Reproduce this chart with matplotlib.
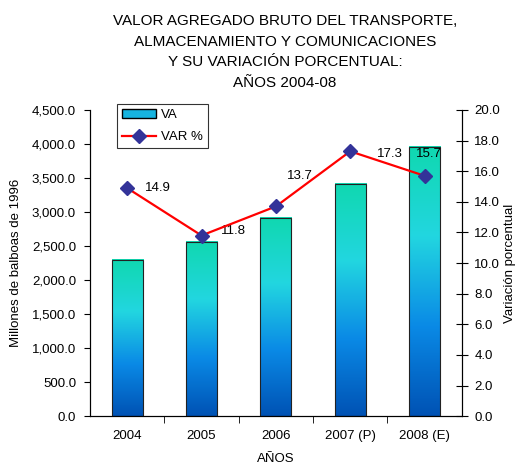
import matplotlib.pyplot as plt
from matplotlib.colors import LinearSegmentedColormap
from matplotlib.lines import Line2D
from matplotlib.patches import Patch
import numpy as np

plt.rcParams["font.family"] = ["Liberation Sans", "DejaVu Sans"]

years = ["2004", "2005", "2006", "2007 (P)", "2008 (E)"]
va = [2300.0, 2560.0, 2915.0, 3415.0, 3960.0]
var_pct = [14.9, 11.8, 13.7, 17.3, 15.7]

# gradiente de las barras: azul abajo, cian al medio, verde arriba
cmap = LinearSegmentedColormap.from_list(
    "va", ["#0052B4", "#0A8AE6", "#22D6E0", "#10D8B0"]
)

fig = plt.figure(figsize=(5.2, 4.66), dpi=100)
ax = fig.add_axes([0.173, 0.107, 0.715, 0.657])
ax2 = ax.twinx()

x = np.arange(len(years))
w = 0.42
grad = np.linspace(0, 1, 256).reshape(-1, 1)
for xi, v in zip(x, va):
    ax.imshow(grad, extent=[xi - w / 2, xi + w / 2, 0, v], origin="lower",
              aspect="auto", cmap=cmap, zorder=2)
ax.bar(x, va, width=w, fill=False, edgecolor="#222222", linewidth=0.8, zorder=3)

ax.set_xlim(-0.5, len(years) - 0.5)
ax.set_ylim(0, 4500)
ax.set_yticks(np.arange(0, 4501, 500))
ax.set_yticklabels([f"{v:,.1f}" for v in np.arange(0, 4501, 500)])
ax.set_xticks(x)
ax.set_xticklabels(years)
ax.set_xticks(np.arange(0.5, len(years) - 1, 1), minor=True)
ax.tick_params(axis="x", which="major", length=0, pad=10, labelsize=9.5)
ax.tick_params(axis="x", which="minor", length=5, direction="out")
ax.tick_params(axis="y", labelsize=9.5, direction="out", length=4, pad=6)
ax.set_ylabel("Millones de balboas de 1996", fontsize=9.5, labelpad=7)
ax.set_xlabel("AÑOS", fontsize=9.5, labelpad=8)

ax2.plot(x, var_pct, color="red", linewidth=1.6, marker="D", markersize=7.5,
         markerfacecolor="#333399", markeredgecolor="#333399", zorder=5)
ax2.set_ylim(0, 20)
ax2.set_yticks(np.arange(0, 20.1, 2))
ax2.set_yticklabels([f"{v:.1f}" for v in np.arange(0, 20.1, 2)])
ax2.tick_params(axis="y", labelsize=9.5, direction="inout", length=8, pad=5)
ax2.set_ylabel("Variación porcentual", fontsize=9.5, labelpad=3)

offsets = [(13, 0), (14, 3), (8, 22), (19, -2), (-6, 16)]
for xi, v, off in zip(x, var_pct, offsets):
    ax2.annotate(f"{v:.1f}", (xi, v), xytext=off, textcoords="offset points",
                 fontsize=9.5, va="center", ha="left")

for a in (ax, ax2):
    a.spines["top"].set_visible(False)

handles = [
    Patch(facecolor="#16B4E0", edgecolor="black", label="VA"),
    Line2D([0], [0], color="red", linewidth=1.6, marker="D", markersize=7,
           markerfacecolor="#333399", markeredgecolor="#333399", label="VAR %"),
]
leg = ax2.legend(handles=handles, loc="upper left", bbox_to_anchor=(0.055, 1.04),
                 fontsize=9.5, frameon=True, fancybox=False, edgecolor="black",
                 borderpad=0.35, handlelength=2.6, labelspacing=0.75,
                 handletextpad=0.4)
leg.get_frame().set_linewidth(0.8)

fig.text(0.548, 0.97, "VALOR AGREGADO BRUTO DEL TRANSPORTE,\n"
         "ALMACENAMIENTO Y COMUNICACIONES\n"
         "Y SU VARIACIÓN PORCENTUAL:\n"
         "AÑOS 2004-08",
         ha="center", va="top", fontsize=11, linespacing=1.6)

fig.savefig("out.png", dpi=100)
